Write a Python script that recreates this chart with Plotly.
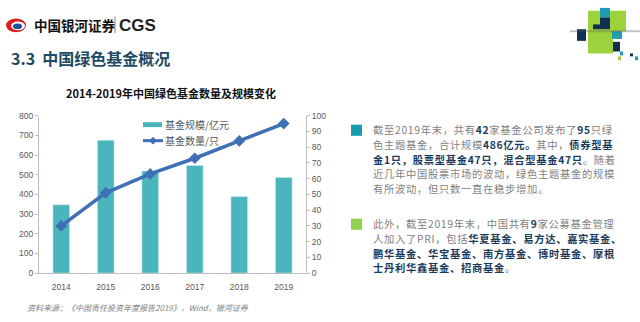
import plotly.graph_objects as go

# ---------------- data ----------------
years = ["2014", "2015", "2016", "2017", "2018", "2019"]
fund_size = [348, 676, 519, 547, 389, 486]        # 基金规模/亿元
fund_count = [30, 51, 63, 73, 84, 95]             # 基金数量/只
left_ticks = [0, 100, 200, 300, 400, 500, 600, 700, 800]
right_ticks = [0, 10, 20, 30, 40, 50, 60, 70, 80, 90, 100]
series_names = ["基金规模/亿元", "基金数量/只"]

W, H = 640, 322
def X(px): return px / W
def Y(py): return 1 - py / H

CJK = "Noto Sans CJK SC"
GRAY_TXT = "#7f7f7f"
NAVY = "#1b3a5c"
BAR_C = "#4ab5bd"
LINE_C = "#3f6fb5"
AX_C = "#bfbfbf"

fig = go.Figure()
fig.add_trace(go.Bar(
    x=years, y=fund_size, name=series_names[0], marker_color=BAR_C,
    width=0.375, yaxis="y", xaxis="x", showlegend=False))
fig.add_trace(go.Scatter(
    x=years, y=fund_count, name=series_names[1], mode="lines+markers",
    line=dict(color=LINE_C, width=3.5),
    marker=dict(symbol="diamond", size=9, color=LINE_C),
    yaxis="y2", xaxis="x", showlegend=False))

tickfont = dict(family="Liberation Sans", size=8.5, color="#595959")
fig.update_layout(
    width=W, height=H, margin=dict(l=0, r=0, t=0, b=0),
    paper_bgcolor="white", plot_bgcolor="white",
    showlegend=False,
    xaxis=dict(domain=[X(39), X(306)], type="category", showline=True,
               linecolor=AX_C, linewidth=1, ticks="", tickfont=tickfont,
               ticklabelstandoff=6, showgrid=False, fixedrange=True),
    yaxis=dict(domain=[Y(276.7), Y(114.3)], range=[0, 800], tickvals=left_ticks,
               showline=True, linecolor=AX_C, linewidth=1, ticks="outside",
               ticklen=3, tickcolor=AX_C, showgrid=False, zeroline=False,
               tickfont=tickfont),
    yaxis2=dict(overlaying="y", side="right", anchor="x", range=[0, 100],
                tickvals=right_ticks, showline=True, linecolor=AX_C, linewidth=1,
                ticks="outside", ticklen=3, tickcolor=AX_C, showgrid=False,
                zeroline=False, tickfont=tickfont),
)

ann = []
shapes = []

# manual legend (inside plot, top)
shapes.append(dict(type="rect", xref="paper", yref="paper",
                   x0=X(143), x1=X(162), y0=Y(126), y1=Y(121),
                   fillcolor=BAR_C, line=dict(width=0)))
shapes.append(dict(type="line", xref="paper", yref="paper",
                   x0=X(143), x1=X(163), y0=Y(140), y1=Y(140),
                   line=dict(color=LINE_C, width=3)))
shapes.append(dict(type="path", xref="paper", yref="paper",
                   path=f"M {X(149)} {Y(140)} L {X(153)} {Y(136)} L {X(157)} {Y(140)} L {X(153)} {Y(144)} Z",
                   fillcolor=LINE_C, line=dict(width=0)))
for i, nm in enumerate(series_names):
    ann.append(dict(text=nm, x=X(163), y=Y(123.5 + 16.5 * i), xref="paper", yref="paper",
                    xanchor="left", yanchor="middle", showarrow=False,
                    font=dict(family=CJK, size=10, color="#595959")))

# header logo
shapes.append(dict(type="circle", xref="paper", yref="paper",
                   x0=X(6), x1=X(26), y0=Y(28), y1=Y(14),
                   fillcolor="#d7201f", line=dict(width=0)))
shapes.append(dict(type="circle", xref="paper", yref="paper",
                   x0=X(11), x1=X(25), y0=Y(26), y1=Y(17),
                   fillcolor="white", line=dict(width=0)))
shapes.append(dict(type="circle", xref="paper", yref="paper",
                   x0=X(13), x1=X(22), y0=Y(25), y1=Y(19),
                   fillcolor="#1f4e9c", line=dict(width=0)))
ann.append(dict(text="<b>中国银河证券</b>", x=X(32), y=Y(21), xref="paper", yref="paper",
                xanchor="left", yanchor="middle", showarrow=False,
                font=dict(family=CJK, size=13.5, color="#111111")))
shapes.append(dict(type="line", xref="paper", yref="paper",
                   x0=X(115), x1=X(115), y0=Y(29), y1=Y(12),
                   line=dict(color="#b07070", width=1)))
ann.append(dict(text="<b>CGS</b>", x=X(117), y=Y(21), xref="paper", yref="paper",
                xanchor="left", yanchor="middle", showarrow=False,
                font=dict(family="Liberation Sans", size=17, color="#222222")))

# section title
ann.append(dict(text="<b>3.3  中国绿色基金概况</b>", x=X(9), y=Y(54.5), xref="paper", yref="paper",
                xanchor="left", yanchor="middle", showarrow=False,
                font=dict(family=CJK, size=16, color="#1d4a66")))

# decorative squares (top-right)
deco = [
    (588, 6, 626, 27, "#9dd23c"),
    (588, 27, 613, 50, "#9dd23c"),
    (600, 3, 610, 13, "#1f9db1"),
    (600, 13, 610, 25, "#12304e"),
    (593, 20, 600, 25, "#12304e"),
    (577, 25, 586, 37, "#12304e"),
    (612, 27, 622, 35, "#1f9db1"),
    (613, 38, 620, 48, "#12304e"),
    (620, 48, 623, 52, "#1f9db1"),
    (630, 50, 633, 53, "#12304e"),
    (635, 53, 638, 57, "#1f9db1"),
    (618, 53, 621, 57, "#9dd23c"),
]
for x0, y0, x1, y1, c in deco:
    shapes.append(dict(type="rect", xref="paper", yref="paper",
                       x0=X(x0), x1=X(x1), y0=Y(y1), y1=Y(y0),
                       fillcolor=c, line=dict(width=0)))
shapes.append(dict(type="line", xref="paper", yref="paper",
                   x0=X(570), x1=X(640), y0=Y(27), y1=Y(27),
                   line=dict(color="rgba(80,80,80,0.35)", width=2)))

# chart title
ann.append(dict(text="<b>2014-2019年中国绿色基金数量及规模变化</b>", x=X(171), y=Y(91),
                xref="paper", yref="paper", xanchor="center", yanchor="middle",
                showarrow=False, font=dict(family=CJK, size=11, color="#111111")))

# source
ann.append(dict(text="<i>资料来源：《中国责任投资年度报告2019》，Wind，银河证券</i>",
                x=X(25), y=Y(312), xref="paper", yref="paper", xanchor="left",
                yanchor="middle", showarrow=False,
                font=dict(family=CJK, size=8, color="#808080")))

# right-side paragraphs
def B(s):
    return f"<b><span style='color:{NAVY}'>{s}</span></b>"

def LS(s):
    return f"<span style='letter-spacing:0.7px'>{s}</span>"

para1 = [
    f"截至2019年末，共有{B('42')}家基金公司发布了{B('95')}只绿",
    f"色主题基金，合计规模{B('486亿元。')}其中，{B('债券型基')}",
    f"{B('金1只，股票型基金47只，混合型基金47只')}。随着",
    "近几年中国股票市场的波动，绿色主题基金的规模",
    "有所波动，但只数一直在稳步增加。",
]
para2 = [
    f"此外，截至2019年末，中国共有{B('9')}家公募基金管理",
    f"人加入了PRI，包括{B('华夏基金、易方达、嘉实基金、')}",
    f"{B('鹏华基金、华宝基金、南方基金、博时基金、摩根')}",
    f"{B('士丹利华鑫基金、招商基金')}。",
]
for i, line in enumerate(para1):
    ann.append(dict(text=LS(line), x=X(371), y=Y(129 + 15 * i), xref="paper", yref="paper",
                    xanchor="left", yanchor="middle", showarrow=False,
                    font=dict(family=CJK, size=10.3, color=GRAY_TXT)))
for i, line in enumerate(para2):
    ann.append(dict(text=LS(line), x=X(371), y=Y(225.5 + 15.3 * i), xref="paper", yref="paper",
                    xanchor="left", yanchor="middle", showarrow=False,
                    font=dict(family=CJK, size=10.3, color=GRAY_TXT)))

shapes.append(dict(type="rect", xref="paper", yref="paper",
                   x0=X(351), x1=X(362), y0=Y(135), y1=Y(123.5),
                   fillcolor="#1a9cb0", line=dict(width=0)))
shapes.append(dict(type="rect", xref="paper", yref="paper",
                   x0=X(351), x1=X(362), y0=Y(232), y1=Y(220.5),
                   fillcolor="#92d050", line=dict(width=0)))

fig.update_layout(annotations=ann, shapes=shapes)
fig.write_html("out.html")
